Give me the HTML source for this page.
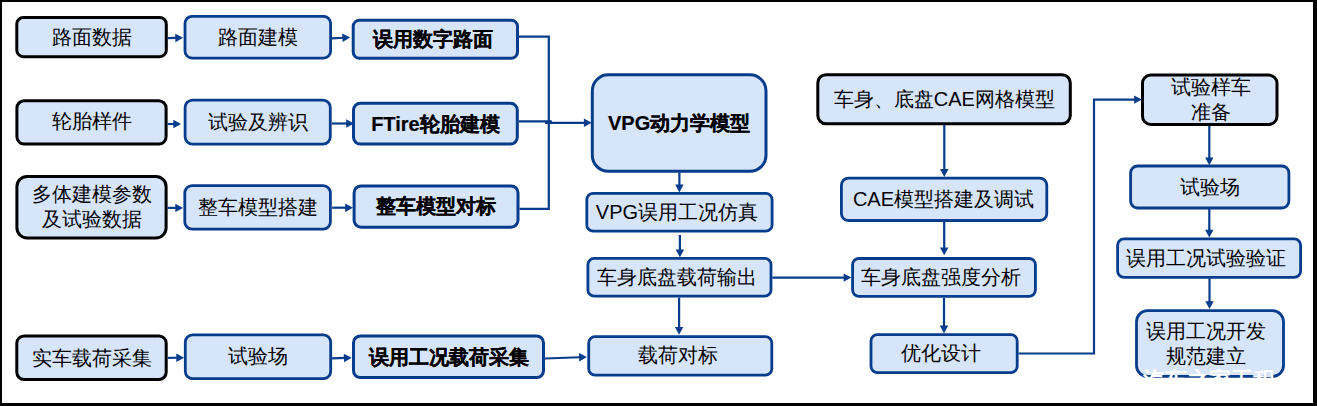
<!DOCTYPE html>
<html><head><meta charset="utf-8"><style>
html,body{margin:0;padding:0;background:#fff;}
body{width:1317px;height:406px;position:relative;overflow:hidden;font-family:"Liberation Sans",sans-serif;}
svg{position:absolute;left:0;top:0;}
.t{position:absolute;display:flex;align-items:center;justify-content:center;text-align:center;color:#000;font-size:20px;line-height:25px;white-space:nowrap;}
.bd{font-weight:bold;-webkit-text-stroke:0.2px #000;}
.frame{position:absolute;left:0;top:0;width:1317px;height:406px;box-sizing:border-box;border-style:solid;border-color:#000;border-width:2px 4px 3px 2px;}
.wm{position:absolute;left:1143px;top:369px;width:140px;height:30px;overflow:hidden;}
.wm span{position:absolute;left:0;top:0;color:#fff;font-weight:900;font-size:22px;line-height:22px;white-space:nowrap;letter-spacing:0px;}
</style></head><body>
<svg width="1317" height="406" viewBox="0 0 1317 406">
<rect x="16.80" y="17.50" width="149.50" height="39.20" rx="6.53" fill="#d6e5fa" stroke="#000" stroke-width="3"/>
<rect x="185.00" y="16.40" width="145.60" height="41.70" rx="6.95" fill="#d6e5fa" stroke="#063c8c" stroke-width="2.8"/>
<rect x="353.20" y="20.20" width="164.30" height="38.10" rx="6.35" fill="#d6e5fa" stroke="#063c8c" stroke-width="3"/>
<rect x="16.90" y="100.70" width="149.20" height="43.40" rx="7.23" fill="#d6e5fa" stroke="#000" stroke-width="3"/>
<rect x="185.10" y="100.10" width="145.20" height="44.10" rx="7.35" fill="#d6e5fa" stroke="#063c8c" stroke-width="2.8"/>
<rect x="353.50" y="103.20" width="163.80" height="40.90" rx="6.82" fill="#d6e5fa" stroke="#063c8c" stroke-width="3"/>
<rect x="16.90" y="176.40" width="149.20" height="61.60" rx="10.27" fill="#d6e5fa" stroke="#000" stroke-width="3"/>
<rect x="184.80" y="185.60" width="145.60" height="43.60" rx="7.27" fill="#d6e5fa" stroke="#063c8c" stroke-width="2.8"/>
<rect x="354.10" y="185.90" width="163.90" height="41.30" rx="6.88" fill="#d6e5fa" stroke="#063c8c" stroke-width="3"/>
<rect x="592.30" y="74.80" width="173.70" height="96.50" rx="16.09" fill="#d6e5fa" stroke="#063c8c" stroke-width="3"/>
<rect x="586.80" y="193.40" width="185.30" height="37.80" rx="6.30" fill="#d6e5fa" stroke="#063c8c" stroke-width="2.8"/>
<rect x="587.90" y="258.40" width="183.10" height="37.80" rx="6.30" fill="#d6e5fa" stroke="#063c8c" stroke-width="2.8"/>
<rect x="588.70" y="336.60" width="183.10" height="38.50" rx="6.42" fill="#d6e5fa" stroke="#063c8c" stroke-width="2.8"/>
<rect x="16.80" y="335.90" width="149.40" height="43.60" rx="7.27" fill="#d6e5fa" stroke="#000" stroke-width="3"/>
<rect x="185.30" y="334.90" width="145.40" height="43.70" rx="7.28" fill="#d6e5fa" stroke="#063c8c" stroke-width="2.8"/>
<rect x="353.50" y="335.90" width="190.00" height="41.70" rx="6.95" fill="#d6e5fa" stroke="#063c8c" stroke-width="3"/>
<rect x="817.80" y="74.70" width="252.50" height="49.10" rx="8.18" fill="#d6e5fa" stroke="#000" stroke-width="3"/>
<rect x="841.40" y="178.20" width="205.40" height="42.30" rx="7.05" fill="#d6e5fa" stroke="#063c8c" stroke-width="2.8"/>
<rect x="852.60" y="258.50" width="182.80" height="37.90" rx="6.32" fill="#d6e5fa" stroke="#063c8c" stroke-width="2.8"/>
<rect x="871.00" y="334.60" width="146.20" height="38.00" rx="6.33" fill="#d6e5fa" stroke="#063c8c" stroke-width="2.8"/>
<rect x="1142.50" y="75.10" width="134.50" height="49.30" rx="8.22" fill="#d6e5fa" stroke="#000" stroke-width="3"/>
<rect x="1130.60" y="166.00" width="158.30" height="42.00" rx="7.00" fill="#d6e5fa" stroke="#063c8c" stroke-width="2.8"/>
<rect x="1117.60" y="238.90" width="183.00" height="38.50" rx="6.42" fill="#d6e5fa" stroke="#063c8c" stroke-width="2.8"/>
<rect x="1136.50" y="310.70" width="147.00" height="65.70" rx="10.95" fill="#d6e5fa" stroke="#063c8c" stroke-width="2.8"/>
<path d="M183.10,37.80 L175.38,42.15 L175.22,33.75 Z" fill="#063c8c"/>
<polyline fill="none" stroke="#063c8c" stroke-width="2.2" points="167.50,38.10 176.30,37.93"/>
<path d="M350.20,37.40 L342.62,41.98 L342.20,33.59 Z" fill="#063c8c"/>
<polyline fill="none" stroke="#063c8c" stroke-width="2.2" points="332.00,38.30 343.41,37.74"/>
<path d="M181.10,124.00 L173.30,128.20 L173.30,119.80 Z" fill="#063c8c"/>
<polyline fill="none" stroke="#063c8c" stroke-width="2.2" points="167.50,124.00 174.30,124.00"/>
<path d="M354.00,123.50 L346.20,127.70 L346.20,119.30 Z" fill="#063c8c"/>
<polyline fill="none" stroke="#063c8c" stroke-width="2.2" points="331.70,123.50 347.20,123.50"/>
<path d="M183.10,207.90 L175.30,212.10 L175.30,203.70 Z" fill="#063c8c"/>
<polyline fill="none" stroke="#063c8c" stroke-width="2.2" points="167.50,207.90 176.30,207.90"/>
<path d="M353.00,207.70 L345.20,211.90 L345.20,203.50 Z" fill="#063c8c"/>
<polyline fill="none" stroke="#063c8c" stroke-width="2.2" points="332.20,207.70 346.20,207.70"/>
<path d="M184.10,357.70 L176.33,361.95 L176.27,353.55 Z" fill="#063c8c"/>
<polyline fill="none" stroke="#063c8c" stroke-width="2.2" points="167.70,357.80 177.30,357.74"/>
<path d="M351.70,357.70 L344.05,362.18 L343.76,353.78 Z" fill="#063c8c"/>
<polyline fill="none" stroke="#063c8c" stroke-width="2.2" points="332.10,358.40 344.90,357.94"/>
<path d="M586.90,357.00 L579.26,361.48 L578.95,353.08 Z" fill="#063c8c"/>
<polyline fill="none" stroke="#063c8c" stroke-width="2.2" points="545.00,358.50 580.10,357.24"/>
<polyline fill="none" stroke="#063c8c" stroke-width="2.2" points="519.00,36.70 548.80,36.70 548.80,208.80 519.50,208.80"/>
<polyline fill="none" stroke="#063c8c" stroke-width="2.2" points="518.80,121.30 551.80,121.30"/>
<path d="M591.70,122.80 L583.90,127.00 L583.90,118.60 Z" fill="#063c8c"/>
<polyline fill="none" stroke="#063c8c" stroke-width="2.2" points="545.00,122.80 584.90,122.80"/>
<path d="M679.40,192.40 L675.20,184.60 L683.60,184.60 Z" fill="#063c8c"/>
<polyline fill="none" stroke="#063c8c" stroke-width="2.2" points="679.40,172.30 679.40,185.60"/>
<path d="M679.90,257.30 L675.70,249.50 L684.10,249.50 Z" fill="#063c8c"/>
<polyline fill="none" stroke="#063c8c" stroke-width="2.2" points="679.90,235.00 679.90,250.50"/>
<path d="M679.10,334.80 L674.90,327.00 L683.30,327.00 Z" fill="#063c8c"/>
<polyline fill="none" stroke="#063c8c" stroke-width="2.2" points="679.10,297.60 679.10,328.00"/>
<path d="M851.40,277.60 L843.60,281.80 L843.60,273.40 Z" fill="#063c8c"/>
<polyline fill="none" stroke="#063c8c" stroke-width="2.2" points="772.40,277.60 844.60,277.60"/>
<path d="M944.30,176.90 L940.10,169.10 L948.50,169.10 Z" fill="#063c8c"/>
<polyline fill="none" stroke="#063c8c" stroke-width="2.2" points="944.30,124.80 944.30,170.10"/>
<path d="M944.20,255.20 L940.00,247.40 L948.40,247.40 Z" fill="#063c8c"/>
<polyline fill="none" stroke="#063c8c" stroke-width="2.2" points="944.20,221.90 944.20,248.40"/>
<path d="M944.00,333.40 L939.80,325.60 L948.20,325.60 Z" fill="#063c8c"/>
<polyline fill="none" stroke="#063c8c" stroke-width="2.2" points="944.00,297.80 944.00,326.60"/>
<path d="M1141.90,99.60 L1134.10,103.80 L1134.10,95.40 Z" fill="#063c8c"/>
<polyline fill="none" stroke="#063c8c" stroke-width="2.2" points="1018.60,353.50 1094.00,353.50 1094.00,99.60 1135.10,99.60"/>
<path d="M1209.30,165.20 L1205.10,157.40 L1213.50,157.40 Z" fill="#063c8c"/>
<polyline fill="none" stroke="#063c8c" stroke-width="2.2" points="1209.30,125.90 1209.30,158.40"/>
<path d="M1209.30,237.50 L1205.10,229.70 L1213.50,229.70 Z" fill="#063c8c"/>
<polyline fill="none" stroke="#063c8c" stroke-width="2.2" points="1209.30,208.90 1209.30,230.70"/>
<path d="M1209.50,309.10 L1205.30,301.30 L1213.70,301.30 Z" fill="#063c8c"/>
<polyline fill="none" stroke="#063c8c" stroke-width="2.2" points="1209.50,278.30 1209.50,302.30"/>
</svg>
<div class="t rg" style="left:15.3px;top:16.0px;width:152.5px;height:42.2px">路面数据</div>
<div class="t rg" style="left:183.6px;top:15.7px;width:148.4px;height:44.5px">路面建模</div>
<div class="t bd" style="left:349.2px;top:18.7px;width:167.3px;height:41.1px">误用数字路面</div>
<div class="t rg" style="left:16.4px;top:98.7px;width:152.2px;height:46.4px">轮胎样件</div>
<div class="t rg" style="left:183.7px;top:98.7px;width:148.0px;height:46.9px">试验及辨识</div>
<div class="t bd" style="left:352.0px;top:102.7px;width:166.8px;height:43.9px">FTire轮胎建模</div>
<div class="t rg" style="left:16.0px;top:174.9px;width:152.2px;height:64.6px">多体建模参数<br>及试验数据</div>
<div class="t rg" style="left:183.4px;top:184.2px;width:148.4px;height:46.4px">整车模型搭建</div>
<div class="t bd" style="left:352.6px;top:184.4px;width:166.9px;height:44.3px">整车模型对标</div>
<div class="t bd" style="left:590.8px;top:73.3px;width:176.7px;height:99.5px">VPG动力学模型</div>
<div class="t rg" style="left:582.9px;top:192.0px;width:188.1px;height:40.6px">VPG误用工况仿真</div>
<div class="t rg" style="left:584.0px;top:257.0px;width:185.9px;height:40.6px">车身底盘载荷输出</div>
<div class="t rg" style="left:585.3px;top:335.2px;width:185.9px;height:41.3px">载荷对标</div>
<div class="t rg" style="left:16.1px;top:334.8px;width:152.4px;height:46.6px">实车载荷采集</div>
<div class="t rg" style="left:183.9px;top:333.5px;width:148.2px;height:46.5px">试验场</div>
<div class="t bd" style="left:352.0px;top:335.0px;width:193.0px;height:44.7px">误用工况载荷采集</div>
<div class="t rg" style="left:816.6px;top:73.2px;width:255.5px;height:52.1px">车身、底盘CAE网格模型</div>
<div class="t rg" style="left:839.4px;top:176.8px;width:208.2px;height:45.1px">CAE模型搭建及调试</div>
<div class="t rg" style="left:848.3px;top:257.1px;width:185.6px;height:40.7px">车身底盘强度分析</div>
<div class="t rg" style="left:866.4px;top:332.8px;width:149.0px;height:40.8px">优化设计</div>
<div class="t rg" style="left:1141.8px;top:73.6px;width:137.5px;height:52.3px">试验样车<br>准备</div>
<div class="t rg" style="left:1129.9px;top:165.4px;width:161.1px;height:44.8px">试验场</div>
<div class="t rg" style="left:1113.4px;top:237.7px;width:185.8px;height:41.3px">误用工况试验验证</div>
<div class="t rg" style="left:1131.1px;top:310.1px;width:149.8px;height:68.5px">误用工况开发<br>规范建立</div>
<div class="wm"><span>汽车之家工程</span></div>
<div class="frame"></div>
</body></html>
